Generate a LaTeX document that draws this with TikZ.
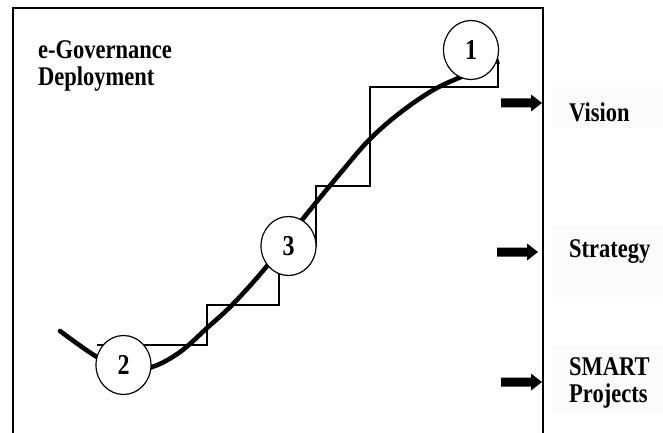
\documentclass[tikz,border=0pt]{standalone}
\usepackage{fontspec}
\setmainfont{Liberation Serif}
\usetikzlibrary{arrows.meta,shapes.geometric}
\newcommand{\tallt}[1]{\scalebox{1}[1.2]{#1}}
\begin{document}
\begin{tikzpicture}[x=1pt,y=-1pt,
  lbl/.style={font=\fontsize{22.5}{27}\selectfont\bfseries, inner sep=0pt, anchor=west, align=left},
  num/.style={draw, fill=white, ellipse, line width=1.2pt, minimum width=55pt, minimum height=59pt, inner sep=0pt, font=\fontsize{24}{24}\selectfont\bfseries},
  stair/.style={line width=1.3pt},
  sline/.style={line width=4.6pt, line cap=round},
  frame/.style={line width=2.5pt},
  blockarrow/.style={fill=black},
  labelbg/.style={fill=black!1.5, draw=none}
]
\useasboundingbox (0,0) rectangle (663,433);
\fill[white] (0,0) rectangle (663,433);

% faint label backgrounds
\fill[labelbg] (552,87) rectangle (663,128);
\fill[labelbg] (552,225) rectangle (663,297);
\fill[labelbg] (552,345) rectangle (663,413);

% staircase
\coordinate (s0) at (97,345);
\coordinate (s9) at (498,58);
\draw[stair, -{Stealth[length=6pt,width=4pt]}] (s0) -- (207,345) -- (207,305) -- (279,305) -- (279,246) -- (316,246) -- (316,186) -- (370,186) -- (370,87) -- (498,87) -- (s9);

% S-curve
\draw[sline] plot[smooth, tension=0.6] coordinates {(60,331) (97,357) (125,369) (152,367) (180,352) (207,328) (233,304) (267,266) (302,220) (343,170) (370,139) (401,112) (435,89) (466,75)};

% numbered circles
\node[num] (c1) at (471,50) {\tallt{1}};
\node[num] (c2) at (123.5,365) {\tallt{2}};
\node[num] (c3) at (288.5,246) {\tallt{3}};

% frame
\draw[frame] (13,433) -- (13,8) -- (543,8) -- (543,433);

% block arrows
\foreach \nm/\x/\y in {av/501/103, as/497/252, ap/501/382}{
  \fill[blockarrow] (\x,\y-4.5) -- (\x+30,\y-4.5) -- (\x+30,\y-8.5) -- (\x+41,\y) -- (\x+30,\y+8.5) -- (\x+30,\y+4.5) -- (\x,\y+4.5) -- cycle;
}

% labels
\node[lbl] (title) at (38,66) {\tallt{e-Governance}\\\tallt{Deployment}};
\node[lbl] (vision) at (569,112) {\tallt{Vision}};
\node[lbl] (strategy) at (569,252) {\tallt{Strategy}};
\node[lbl] (smart) at (569,383) {\tallt{SMART}\\\tallt{Projects}};
\end{tikzpicture}
\end{document}
